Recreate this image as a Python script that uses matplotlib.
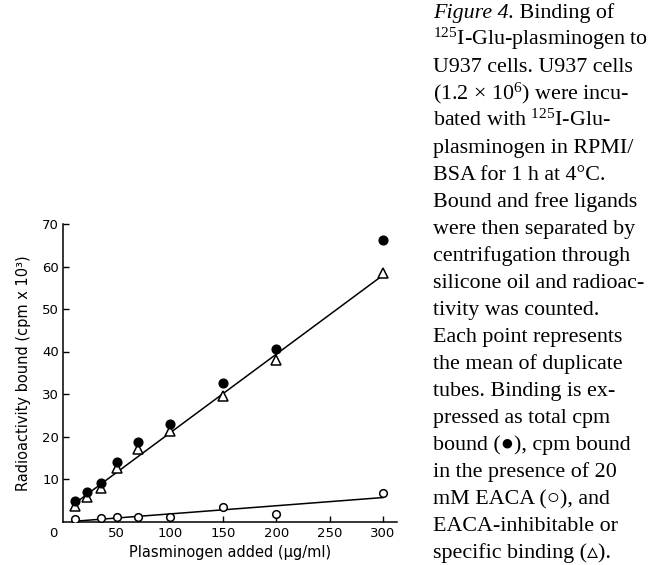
import numpy as np
import matplotlib
matplotlib.use("Agg")
import matplotlib.pyplot as plt

plt.rcParams['font.family'] = ['DejaVu Sans']
plt.rcParams['mathtext.fontset'] = 'custom'
plt.rcParams['mathtext.rm'] = 'Liberation Serif'
plt.rcParams['mathtext.it'] = 'Liberation Serif:italic'

# plasminogen added (ug/ml)
conc = [11, 22, 35, 50, 70, 100, 150, 200, 300]
total_bound = [4.8, 6.9, 9.0, 13.9, 18.8, 22.9, 32.5, 40.7, 66.2]      # filled circles
specific_bound = [3.6, 5.8, 8.0, 12.5, 17.1, 21.3, 29.6, 38.0, 58.5]   # triangles
conc_eaca = [11, 35, 50, 70, 100, 150, 200, 300]
eaca_bound = [0.5, 0.9, 1.1, 1.0, 1.1, 3.3, 1.8, 6.8]                  # open circles

xticks = [50, 100, 150, 200, 250, 300]
yticks = [10, 20, 30, 40, 50, 60, 70]

caption = [
    " Binding of",
    r"$^{125}$I-Glu-plasminogen to",
    "U937 cells. U937 cells",
    "(1.2 \u00d7 10$^{6}$) were incu-",
    r"bated with $^{125}$I-Glu-",
    "plasminogen in RPMI/",
    "BSA for 1 h at 4\u00b0C.",
    "Bound and free ligands",
    "were then separated by",
    "centrifugation through",
    "silicone oil and radioac-",
    "tivity was counted.",
    "Each point represents",
    "the mean of duplicate",
    "tubes. Binding is ex-",
    "pressed as total cpm",
    "bound (\u25cf), cpm bound",
    "in the presence of 20",
    "mM EACA (\u25cb), and",
    "EACA-inhibitable or",
    "specific binding (\u25b5).",
]

W, H = 653, 565
fig = plt.figure(figsize=(W / 100, H / 100), dpi=100)
ax = fig.add_axes([63.3 / W, (H - 521.5) / H, 333.4 / W, 297.5 / H])

# fitted lines
fit_spec = np.polyfit(conc, specific_bound, 1)
fit_eaca = np.polyfit(conc_eaca, eaca_bound, 1)
xs = np.array([conc[0], conc[-1]])
ax.plot(xs, np.polyval(fit_spec, xs), color='black', lw=1.1, zorder=2)
ax.plot(xs, np.polyval(fit_eaca, xs), color='black', lw=1.1, zorder=2)

ax.plot(conc, specific_bound, linestyle='none', marker='^', ms=6.5,
        mfc='white', mec='black', mew=1.1, zorder=3)
ax.plot(conc, total_bound, linestyle='none', marker='o', ms=6.3,
        mfc='black', mec='black', zorder=4)
ax.plot(conc_eaca, eaca_bound, linestyle='none', marker='o', ms=5.5,
        mfc='white', mec='black', mew=1.1, zorder=4)

ax.set_xlim(0, 313)
ax.set_ylim(0, 70)
ax.set_xticks(xticks)
ax.set_yticks(yticks)
ax.tick_params(direction='in', length=4, width=1, labelsize=9.5)
ax.tick_params(axis='x', pad=4)
ax.tick_params(axis='y', pad=3)
for s in ['top', 'right']:
    ax.spines[s].set_visible(False)
for s in ['left', 'bottom']:
    ax.spines[s].set_linewidth(1.1)

ax.annotate('0', xy=(0, 0), xycoords='axes fraction', xytext=(-10, -5.6),
            textcoords='offset pixels', ha='center', va='top', fontsize=9.5)

ax.set_xlabel("Plasminogen added (\u00b5g/ml)", fontsize=10.5)
ax.set_ylabel("Radioactivity bound (cpm x 10\u00b3)", fontsize=10.5)
ax.xaxis.set_label_coords(0.5, -0.078)
ax.yaxis.set_label_coords(-0.097, 0.5)

# caption on the right
cap_font = ['Liberation Serif', 'DejaVu Serif']
x0 = 433 / W
head = fig.text(x0, 1 - 18 / H, "Figure 4.", fontsize=15.8, family=cap_font,
                style='italic', va='baseline', ha='left')
cap_texts = []
for i, line in enumerate(caption):
    y = 1 - (18 + 27 * i) / H
    cap_texts.append(fig.text(x0, y, line, fontsize=15.8, family=cap_font,
                              va='baseline', ha='left'))

# put " Binding of" right after the italic heading
fig.canvas.draw()
cap_texts[0].set_x(head.get_window_extent().x1 / W)

fig.savefig("out.png", dpi=100)
